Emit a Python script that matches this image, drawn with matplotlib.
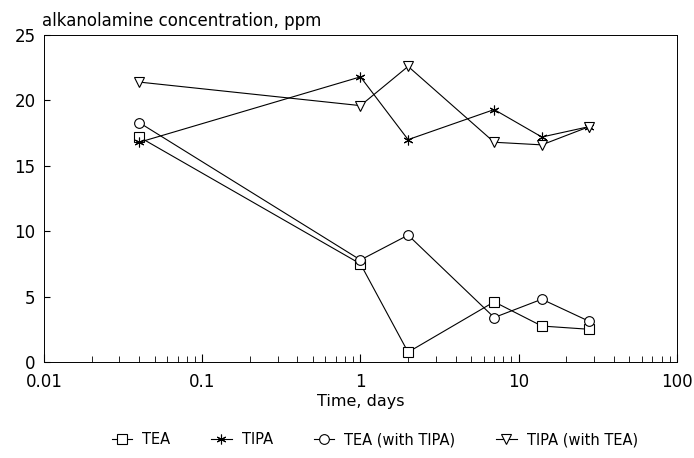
import numpy as np
import matplotlib.pyplot as plt

# Tiempo (dias) y concentraciones (ppm)
dias = [0.04, 1, 2, 7, 14, 28]
tea = [17.2, 7.5, 0.75, 4.6, 2.75, 2.5]
tipa = [16.8, 21.8, 17.0, 19.3, 17.2, 18.0]
tea_con_tipa = [18.3, 7.8, 9.7, 3.4, 4.8, 3.1]
tipa_con_tea = [21.4, 19.6, 22.6, 16.8, 16.6, 18.0]

plt.rcParams['font.family'] = ['DejaVu Sans']

fig = plt.figure(figsize=(6.94, 4.58), dpi=100)
ax = fig.add_axes([0.0634, 0.2096, 0.912, 0.714])

estilo = dict(color='black', linewidth=0.8, markersize=7, markerfacecolor='white',
              markeredgecolor='black', markeredgewidth=0.8)
ax.plot(dias, tea, marker='s', label='TEA', **estilo)
ax.plot(dias, tipa, marker=(6, 2, 0), label='TIPA', **estilo)
ax.plot(dias, tea_con_tipa, marker='o', label='TEA (with TIPA)', **estilo)
ax.plot(dias, tipa_con_tea, marker='v', label='TIPA (with TEA)', **estilo)

ax.set_xscale('log')
ax.set_xlim(0.01, 100)
ax.set_ylim(0, 25)
ax.set_xticks([0.01, 0.1, 1, 10, 100])
ax.set_xticklabels(['0.01', '0.1', '1', '10', '100'])
ax.set_yticks([0, 5, 10, 15, 20, 25])
ax.tick_params(axis='both', which='both', direction='in', labelsize=12)
ax.tick_params(axis='x', which='major', length=6, pad=8)
ax.tick_params(axis='x', which='minor', length=4)
ax.tick_params(axis='y', which='major', length=4, pad=6)
for s in ax.spines.values():
    s.set_linewidth(0.7)

ax.set_xlabel('Time, days', fontsize=11.5, labelpad=2)
fig.text(0.06, 0.935, 'alkanolamine concentration, ppm', fontsize=12, ha='left', va='bottom')

fig.legend(loc='center', bbox_to_anchor=(0.54, 0.04), ncol=4, frameon=False,
           fontsize=10.5, handlelength=1.4, columnspacing=2.8, handletextpad=0.7)

fig.savefig('out.png', dpi=100)
